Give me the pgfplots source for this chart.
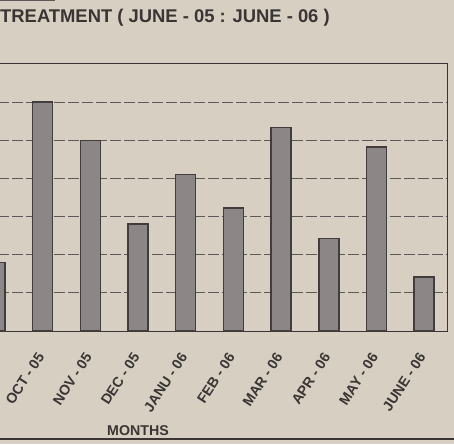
\documentclass[border=0pt]{standalone}
\usepackage{pgfplots}
\pgfplotsset{compat=1.18}
\usepackage{fontspec}
\setmainfont{Liberation Sans}
\definecolor{paper}{RGB}{214,207,194}
\definecolor{barfill}{RGB}{140,135,134}
\definecolor{bardark}{RGB}{66,60,60}
\definecolor{ink}{RGB}{58,53,52}
\definecolor{gridc}{RGB}{95,88,86}
\begin{document}
\begin{tikzpicture}
\fill[paper] (0pt,0pt) rectangle (454pt,444pt);
\useasboundingbox (0pt,0pt) rectangle (454pt,444pt);
\begin{axis}[
  at={(-2pt,113pt)}, anchor=south west,
  scale only axis, width=449pt, height=267pt,
  xmin=0.063, xmax=9.48, ymin=0, ymax=7,
  axis line style={draw=ink, line width=1pt},
  xtick={1,...,9},
  xticklabels={OCT - 05, NOV - 05, DEC - 05, JANU - 06, FEB - 06, MAR - 06, APR - 06, MAY - 06, JUNE - 06},
  xticklabel style={rotate=57, anchor=east, font=\bfseries\fontsize{14.2}{16}\selectfont, text=ink, yshift=-11pt, xshift=-17pt},
  ytick={1,...,6}, yticklabels={},
  major tick length=0pt,
  ymajorgrids, grid style={draw=gridc, line width=0.8pt, dash pattern=on 11pt off 3pt},
]
\addplot[ybar, bar width=20pt, fill=barfill, draw=bardark, line width=1.5pt]
  coordinates {(0,1.8) (1,6.0) (2,5.0) (3,2.8) (4,4.1) (5,3.22) (6,5.33) (7,2.43) (8,4.83) (9,1.41)};
\end{axis}
\node[anchor=base west, inner sep=0, text=ink, font=\bfseries\fontsize{18.4}{20}\selectfont] at (0pt,421pt) {TREATMENT ( JUNE - 05 : JUNE - 06 )};
\node[anchor=base west, inner sep=0, text=ink, font=\bfseries\fontsize{14.2}{16}\selectfont] at (107pt,9pt) {MONTHS};
\draw[ink, line width=2pt] (0pt,5pt) -- (454pt,5pt);
\draw[gridc, line width=2pt] (0pt,443.5pt) -- (55pt,443.5pt);
\end{tikzpicture}
\end{document}
